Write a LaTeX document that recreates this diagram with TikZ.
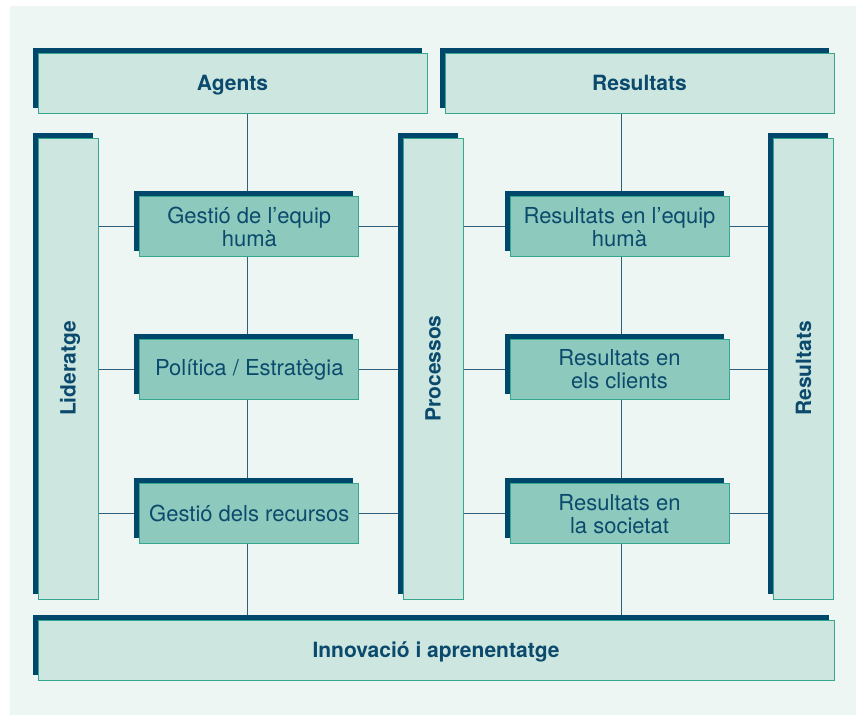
\documentclass[tikz,border=0pt]{standalone}
\usepackage{fontspec}
\setmainfont{TeX Gyre Heros}
\usetikzlibrary{shadows}
\definecolor{shadowc}{HTML}{00476C}
\definecolor{lightf}{HTML}{CDE7E0}
\definecolor{midf}{HTML}{8DCABD}
\definecolor{borderc}{HTML}{35A78F}
\definecolor{panelc}{HTML}{EEF6F3}
\definecolor{txtc}{HTML}{0B4A6D}
\definecolor{linec}{HTML}{2E5F7C}
\pgfdeclarelayer{back}
\pgfdeclarelayer{lines}
\pgfsetlayers{back,lines,main}
\begin{document}
\begin{tikzpicture}[x=1pt,y=-1pt,
  boxbase/.style={draw=borderc, line width=1pt, inner sep=0pt, align=center, text=txtc,
    general shadow={fill=shadowc, shadow xshift=-5.5pt, shadow yshift=5.5pt}},
  bigbox/.style={boxbase, fill=lightf, text height=15pt, text depth=0pt,
    font=\fontsize{21}{22}\selectfont\bfseries},
  vlabel/.style={rotate=90, text=txtc, inner sep=0pt, text height=15pt, text depth=0pt,
    font=\fontsize{21}{22}\selectfont\bfseries},
  smallbox/.style={boxbase, fill=midf, minimum width=219pt, minimum height=60pt,
    font=\fontsize{22}{23}\selectfont},
  conn/.style={draw=linec, line width=1.1pt}]
\useasboundingbox (0,0) rectangle (856,715);
\begin{pgfonlayer}{back}
  \fill[white] (0,0) rectangle (856,715);
  \fill[panelc] (10,6) rectangle (856,715);
\end{pgfonlayer}
% big boxes
\node[bigbox, minimum width=389pt, minimum height=60pt] (agents) at (232.5,83) {Agents};
\node[bigbox, minimum width=389pt, minimum height=60pt] (resT) at (639.5,83) {Resultats};
\node[bigbox, minimum width=60pt, minimum height=461pt] (lider) at (68,368.5) {};
\node[vlabel] (liderL) at (lider.center) {Lideratge};
\node[bigbox, minimum width=60pt, minimum height=461pt] (proc) at (433,368.5) {};
\node[vlabel] (procL) at (proc.center) {Processos};
\node[bigbox, minimum width=60pt, minimum height=461pt] (resR) at (803.7,368.5) {};
\node[vlabel] (resRL) at (resR.center) {Resultats};
\node[bigbox, minimum width=796pt, minimum height=60pt] (innov) at (436,650) {Innovació i aprenentatge};
% small boxes
\node[smallbox] (g1) at (249.3,226.8) {Gestió de l’equip\\humà};
\node[smallbox] (g2) at (249.3,369.5) {Política / Estratègia};
\node[smallbox] (g3) at (249.3,513.7) {Gestió dels recursos};
\node[smallbox] (r1) at (619.5,226.8) {Resultats en l’equip\\humà};
\node[smallbox] (r2) at (619.5,369.5) {Resultats en\\els clients};
\node[smallbox] (r3) at (619.5,513.7) {Resultats en\\la societat};
% connectors
\begin{pgfonlayer}{lines}
  \draw[conn] ([xshift=-2pt]agents.south -| g1) -- ([xshift=-2pt]innov.north -| g1);
  \draw[conn] ([xshift=2pt]resT.south -| r1) -- ([xshift=2pt]innov.north -| r1);
  \foreach \a/\b in {g1/r1, g2/r2, g3/r3}{
    \draw[conn] (lider.east |- \a) -- (proc.west |- \a);
    \draw[conn] (proc.east |- \b) -- (resR.west |- \b);
  }
\end{pgfonlayer}
\end{tikzpicture}
\end{document}
